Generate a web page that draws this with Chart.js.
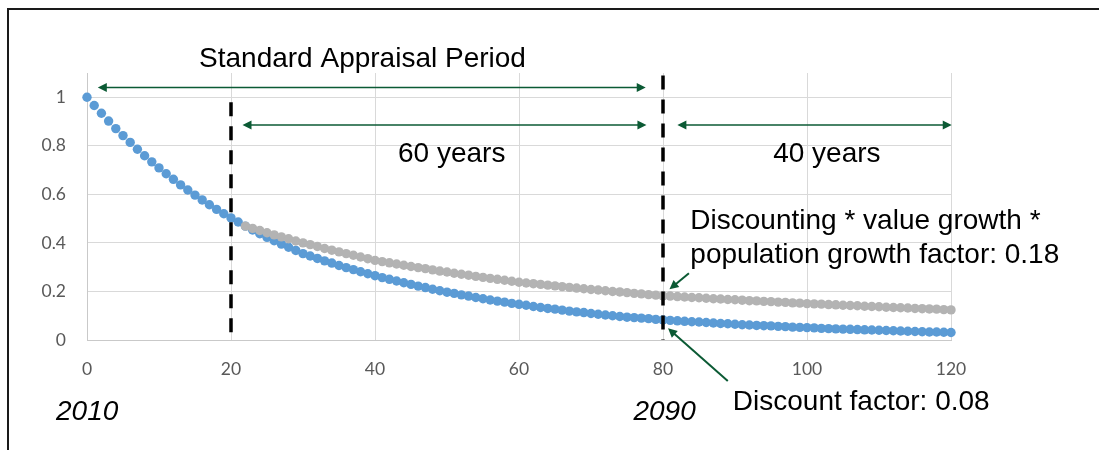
<!DOCTYPE html>
<html>
<head>
<meta charset="utf-8">
<title>Discount factor over the appraisal period</title>
<script src="https://cdn.jsdelivr.net/npm/chart.js@4/dist/chart.umd.min.js"></script>
<style>
  html, body { margin: 0; padding: 0; background: #ffffff; }
  #wrap { position: relative; width: 1099px; height: 450px; overflow: hidden; }
  #frame { position: absolute; left: 7px; top: 8px; width: 1200px; height: 600px;
           border-top: 2px solid #1a1a1a; border-left: 2px solid #1a1a1a; }
  canvas { position: absolute; left: 0; top: 0; }
</style>
</head>
<body>
<div id="wrap">
  <div id="frame"></div>
  <canvas id="chart" width="1099" height="450"></canvas>
</div>
<script>
// Years from the appraisal start (2010 = year 0)
const years = [
  0, 1, 2, 3, 4, 5, 6, 7, 8, 9, 10, 11, 12, 13, 14, 15, 16, 17, 18, 19, 20,
  21, 22, 23, 24, 25, 26, 27, 28, 29, 30, 31, 32, 33, 34, 35, 36, 37, 38, 39, 40,
  41, 42, 43, 44, 45, 46, 47, 48, 49, 50, 51, 52, 53, 54, 55, 56, 57, 58, 59, 60,
  61, 62, 63, 64, 65, 66, 67, 68, 69, 70, 71, 72, 73, 74, 75, 76, 77, 78, 79, 80,
  81, 82, 83, 84, 85, 86, 87, 88, 89, 90, 91, 92, 93, 94, 95, 96, 97, 98, 99, 100,
  101, 102, 103, 104, 105, 106, 107, 108, 109, 110, 111, 112, 113, 114, 115, 116, 117, 118, 119, 120
];

// Discount factor for each year
const discountFactor = [
  1.000, 0.966, 0.934, 0.902, 0.871, 0.842, 0.814, 0.786, 0.759, 0.734, 0.709,
  0.685, 0.662, 0.639, 0.618, 0.597, 0.577, 0.557, 0.538, 0.520, 0.503,
  0.486, 0.469, 0.453, 0.438, 0.423, 0.409, 0.395, 0.382, 0.369, 0.356,
  0.346, 0.336, 0.326, 0.317, 0.307, 0.298, 0.290, 0.281, 0.273, 0.265,
  0.257, 0.250, 0.243, 0.236, 0.229, 0.222, 0.216, 0.209, 0.203, 0.197,
  0.192, 0.186, 0.181, 0.175, 0.170, 0.165, 0.160, 0.156, 0.151, 0.147,
  0.143, 0.138, 0.134, 0.130, 0.127, 0.123, 0.119, 0.116, 0.113, 0.109,
  0.106, 0.103, 0.100, 0.097, 0.094, 0.092, 0.090, 0.088, 0.085, 0.083,
  0.081, 0.079, 0.077, 0.075, 0.074, 0.072, 0.070, 0.068, 0.067, 0.065,
  0.063, 0.062, 0.060, 0.059, 0.058, 0.056, 0.055, 0.053, 0.052, 0.051,
  0.050, 0.048, 0.047, 0.046, 0.045, 0.044, 0.043, 0.042, 0.041, 0.040,
  0.039, 0.038, 0.037, 0.036, 0.035, 0.034, 0.033, 0.033, 0.032, 0.031
];

// Discounting * value growth * population growth factor (from year 22 on)
const growthAdjusted = [
  null, null, null, null, null, null, null, null, null, null, null,
  null, null, null, null, null, null, null, null, null, null, null,
  0.469, 0.460, 0.451, 0.442, 0.433, 0.425, 0.417, 0.408, 0.400,
  0.393, 0.385, 0.377, 0.370, 0.363, 0.356, 0.349, 0.342, 0.335, 0.328,
  0.323, 0.318, 0.313, 0.308, 0.303, 0.298, 0.294, 0.289, 0.284, 0.280,
  0.275, 0.271, 0.267, 0.262, 0.258, 0.254, 0.250, 0.246, 0.242, 0.238,
  0.235, 0.232, 0.229, 0.226, 0.223, 0.220, 0.217, 0.214, 0.211, 0.208,
  0.206, 0.203, 0.200, 0.198, 0.195, 0.192, 0.190, 0.187, 0.185, 0.182,
  0.181, 0.179, 0.177, 0.175, 0.174, 0.172, 0.170, 0.169, 0.167, 0.166,
  0.164, 0.162, 0.161, 0.159, 0.158, 0.156, 0.155, 0.153, 0.152, 0.150,
  0.149, 0.148, 0.146, 0.145, 0.143, 0.142, 0.141, 0.139, 0.138, 0.137,
  0.135, 0.134, 0.133, 0.132, 0.130, 0.129, 0.128, 0.127, 0.125, 0.124
];

// Axis ticks
const xTicks = [0, 20, 40, 60, 80, 100, 120];
const yTicks = [0, 0.2, 0.4, 0.6, 0.8, 1];

// Period markers and their labels
const periodMarkers = [20, 80];
const markerTops = [0.98, 1.09];
const calendarLabels = ['2010', '2090'];
const calendarLabelYears = [-4.3, 75.9];

const toPoints = (vals) => years
  .map((yr, i) => ({ x: yr, y: vals[i] }))
  .filter(p => p.y !== null);

const GREEN = '#0b5a34';
const TEXT_FONT = '28px "Liberation Sans", Arial, sans-serif';

function arrowHead(ctx, tipX, tipY, angle, len, half) {
  ctx.save();
  ctx.translate(tipX, tipY);
  ctx.rotate(angle);
  ctx.beginPath();
  ctx.moveTo(0, 0);
  ctx.lineTo(-len, -half);
  ctx.lineTo(-len, half);
  ctx.closePath();
  ctx.fill();
  ctx.restore();
}

function spanArrow(ctx, x1, x2, yy) {
  ctx.beginPath();
  ctx.moveTo(x1 + 6, yy);
  ctx.lineTo(x2 - 6, yy);
  ctx.stroke();
  arrowHead(ctx, x1, yy, Math.PI, 9, 4.5);
  arrowHead(ctx, x2, yy, 0, 9, 4.5);
}

function pointer(ctx, fx, fy, tx, ty) {
  const ang = Math.atan2(ty - fy, tx - fx);
  ctx.beginPath();
  ctx.moveTo(fx, fy);
  ctx.lineTo(tx - Math.cos(ang) * 6, ty - Math.sin(ang) * 6);
  ctx.stroke();
  arrowHead(ctx, tx, ty, ang, 9, 4.5);
}

const notesPlugin = {
  id: 'periodNotes',
  afterDatasetsDraw(chart) {
    const { ctx, scales: { x, y } } = chart;
    ctx.save();

    // dashed period boundaries
    ctx.strokeStyle = '#000000';
    ctx.lineWidth = 3.5;
    ctx.setLineDash([14, 10]);
    periodMarkers.forEach((yr, i) => {
      const px = Math.round(x.getPixelForValue(yr));
      ctx.beginPath();
      ctx.moveTo(px, y.getPixelForValue(markerTops[i]));
      ctx.lineTo(px, y.getPixelForValue(0));
      ctx.stroke();
    });
    ctx.setLineDash([]);

    // period span arrows
    ctx.strokeStyle = GREEN;
    ctx.fillStyle = GREEN;
    ctx.lineWidth = 1.6;
    spanArrow(ctx, x.getPixelForValue(1.5), x.getPixelForValue(77.6), y.getPixelForValue(1.04));
    spanArrow(ctx, x.getPixelForValue(21.6), x.getPixelForValue(77.7), y.getPixelForValue(0.886));
    spanArrow(ctx, x.getPixelForValue(82.0), x.getPixelForValue(120.1), y.getPixelForValue(0.886));

    // pointers to the year-80 values
    ctx.lineWidth = 2;
    pointer(ctx, x.getPixelForValue(83.6), y.getPixelForValue(0.275),
                 x.getPixelForValue(80.9), y.getPixelForValue(0.209));
    pointer(ctx, x.getPixelForValue(89.0), y.getPixelForValue(-0.169),
                 x.getPixelForValue(80.7), y.getPixelForValue(0.048));

    // text
    ctx.fillStyle = '#000000';
    ctx.textAlign = 'left';
    ctx.textBaseline = 'alphabetic';
    ctx.font = TEXT_FONT;
    ctx.fillText('Standard Appraisal Period', x.getPixelForValue(15.56), y.getPixelForValue(1.126));
    ctx.fillText('60 years', x.getPixelForValue(43.2), y.getPixelForValue(0.735));
    ctx.fillText('40 years', x.getPixelForValue(95.3), y.getPixelForValue(0.735));
    ctx.fillText('Discounting * value growth *', x.getPixelForValue(83.8), y.getPixelForValue(0.456));
    ctx.fillText('population growth factor: 0.18', x.getPixelForValue(83.8), y.getPixelForValue(0.316));
    ctx.fillText('Discount factor: 0.08', x.getPixelForValue(89.7), y.getPixelForValue(-0.288));

    ctx.font = 'italic ' + TEXT_FONT;
    calendarLabels.forEach((lab, i) => {
      ctx.fillText(lab, x.getPixelForValue(calendarLabelYears[i]), y.getPixelForValue(-0.328));
    });
    ctx.restore();
  }
};

const tickFont = { family: 'Lato, "Liberation Sans", sans-serif', size: 17.5 };

new Chart(document.getElementById('chart'), {
  type: 'scatter',
  data: {
    datasets: [
      {
        label: 'Discounting * value growth * population growth factor',
        data: toPoints(growthAdjusted),
        backgroundColor: '#b3b3b3',
        borderColor: '#b3b3b3',
        pointRadius: 4.7,
        pointBorderWidth: 0,
        pointHoverRadius: 4.7,
        clip: false,
        order: 0
      },
      {
        label: 'Discount factor',
        data: toPoints(discountFactor),
        backgroundColor: '#5b9bd5',
        borderColor: '#5b9bd5',
        pointRadius: 4.7,
        pointBorderWidth: 0,
        pointHoverRadius: 4.7,
        clip: false,
        order: 1
      }
    ]
  },
  options: {
    responsive: false,
    animation: false,
    devicePixelRatio: 1,
    layout: { padding: { left: 0, top: 73, right: 148, bottom: 0 } },
    plugins: { legend: { display: false }, tooltip: { enabled: false } },
    scales: {
      x: {
        type: 'linear',
        min: 0,
        max: 120,
        afterBuildTicks: (s) => { s.ticks = xTicks.map(v => ({ value: v })); },
        afterFit: (s) => { s.height = 110; },
        grid: { color: '#d9d9d9', lineWidth: 1, drawTicks: false },
        border: { color: '#c9c9c9', width: 1 },
        ticks: { color: '#595959', font: tickFont, padding: 19, maxRotation: 0,
                 callback: (v) => String(v) }
      },
      y: {
        type: 'linear',
        min: 0,
        max: 1.1,
        afterBuildTicks: (s) => { s.ticks = yTicks.map(v => ({ value: v })); },
        afterFit: (s) => { s.width = 87; },
        grid: { color: '#d9d9d9', lineWidth: 1, drawTicks: false },
        border: { color: '#c9c9c9', width: 1 },
        ticks: { color: '#595959', font: tickFont, padding: 21,
                 callback: (v) => String(Math.round(v * 10) / 10) }
      }
    }
  },
  plugins: [notesPlugin]
});
</script>
</body>
</html>
